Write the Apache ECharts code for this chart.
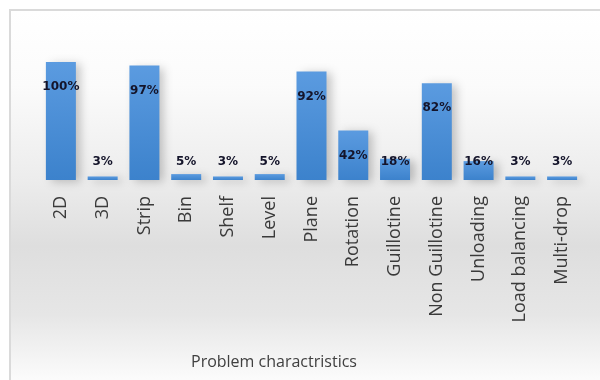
<!DOCTYPE html>
<html>
<head>
<meta charset="utf-8">
<style>
  html, body { margin: 0; padding: 0; background: #fff; }
  #myChart { width: 600px; height: 380px; }
</style>
<script src="https://cdn.jsdelivr.net/npm/echarts@6/dist/echarts.min.js"></script>
</head>
<body>
<div id="myChart"></div>
<script>
// chart data
var categories = ['2D', '3D', 'Strip', 'Bin', 'Shelf', 'Level', 'Plane', 'Rotation',
  'Guillotine', 'Non Guillotine', 'Unloading', 'Load balancing', 'Multi-drop'];
var percentValues = [100, 3, 97, 5, 3, 5, 92, 42, 18, 82, 16, 3, 3];
var axisTitle = 'Problem charactristics';

var labelFont = { color: '#14142a', fontFamily: 'DejaVu Sans', fontWeight: 'bold', fontSize: 12 };

// tall bars get label inside near the top, short ones sit just above the base
var barData = percentValues.map(function (v) {
  var pos = v >= 40 ? { position: 'insideTop', distance: 19 } : { position: 'insideBottom', distance: 12 };
  return { value: v, label: Object.assign({ show: true, formatter: '{c}%' }, labelFont, pos) };
});

var myChart = echarts.init(document.getElementById('myChart'));
var option = {
  backgroundColor: '#ffffff',
  animation: false,
  graphic: [{
    type: 'rect',
    z: -10,
    silent: true,
    shape: { x: 10, y: 10, width: 600, height: 380 },
    style: {
      fill: {
        type: 'linear', x: 0, y: 0, x2: 0, y2: 1,
        colorStops: [
          { offset: 0, color: '#ffffff' },
          { offset: 0.2, color: '#fbfbfb' },
          { offset: 0.45, color: '#ececec' },
          { offset: 0.62, color: '#dedede' },
          { offset: 0.8, color: '#e6e6e6' },
          { offset: 1, color: '#ffffff' }
        ]
      },
      stroke: '#dadada',
      lineWidth: 2
    }
  }],
  title: {
    text: axisTitle,
    left: 186,
    top: 349,
    textStyle: { fontFamily: 'Open Sans', fontWeight: 'normal', fontSize: 16, color: '#404040' }
  },
  grid: { left: 40, right: 17, top: 62, bottom: 200 },
  xAxis: {
    type: 'category',
    data: categories,
    axisLine: { show: false },
    axisTick: { show: false },
    axisLabel: {
      rotate: 90,
      interval: 0,
      margin: 16,
      fontFamily: 'Open Sans',
      fontSize: 18,
      color: '#3a3a3a'
    }
  },
  yAxis: { type: 'value', min: 0, max: 100, show: false },
  series: [{
    type: 'bar',
    data: barData,
    barWidth: 30,
    itemStyle: {
      color: {
        type: 'linear', x: 0, y: 0, x2: 0, y2: 1,
        colorStops: [
          { offset: 0, color: '#5b9be0' },
          { offset: 1, color: '#3c82cc' }
        ]
      },
      shadowColor: 'rgba(0,0,0,0.22)',
      shadowBlur: 9,
      shadowOffsetX: 5,
      shadowOffsetY: 2
    }
  }]
};
myChart.setOption(option);
</script>
</body>
</html>
